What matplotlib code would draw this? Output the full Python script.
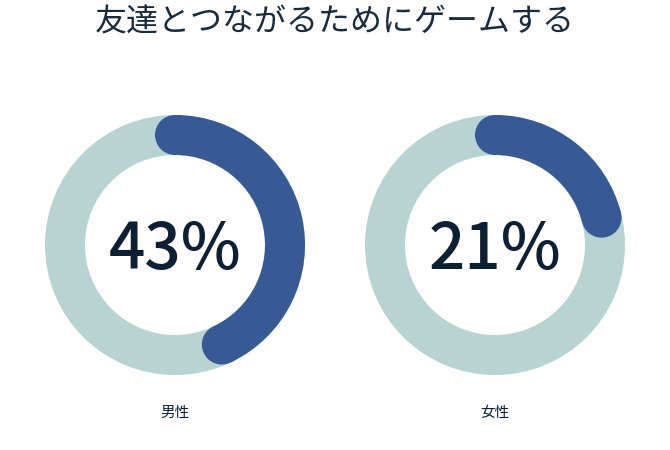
import numpy as np
import matplotlib
matplotlib.use('Agg')
import matplotlib.pyplot as plt
from matplotlib.patches import Wedge, Circle

plt.rcParams['font.family'] = ['Noto Sans CJK JP', 'DejaVu Sans']

# data
title = '友達とつながるためにゲームする'
groups = ['男性', '女性']
percents = [43, 21]

# colours
ring_color = '#b7d3d2'
arc_color = '#375a95'
text_color = '#0c1f33'

fig = plt.figure(figsize=(6.7, 4.5), dpi=100)
ax = fig.add_axes([0, 0, 1, 1])
ax.set_xlim(0, 670)
ax.set_ylim(450, 0)
ax.set_aspect('equal')
ax.axis('off')

centers_x = [175, 495]
cy = 245
r_out = 130
width = 40
r_mid = r_out - width / 2

for cx, pct, label in zip(centers_x, percents, groups):
    # background ring
    ax.add_patch(Wedge((cx, cy), r_out, 0, 360, width=width,
                       facecolor=ring_color, edgecolor='none'))
    # value arc, clockwise from top (y axis is inverted so angles flip)
    sweep = pct / 100 * 360
    start = -90
    end = -90 + sweep
    ax.add_patch(Wedge((cx, cy), r_out, start, end, width=width,
                       facecolor=arc_color, edgecolor='none'))
    # round caps
    for ang in (start, end):
        a = np.deg2rad(ang)
        ax.add_patch(Circle((cx + r_mid * np.cos(a), cy + r_mid * np.sin(a)),
                            width / 2, facecolor=arc_color, edgecolor='none'))
    ax.text(cx, cy + 5, f'{pct}%', ha='center', va='center',
            fontsize=46, fontweight='medium', color=text_color)
    ax.text(cx, 413, label, ha='center', va='center',
            fontsize=10.5, color=text_color)

ax.text(335, 22, title, ha='center', va='center', fontsize=23, color='#1a2b3b')

fig.savefig('out.png', dpi=100)
